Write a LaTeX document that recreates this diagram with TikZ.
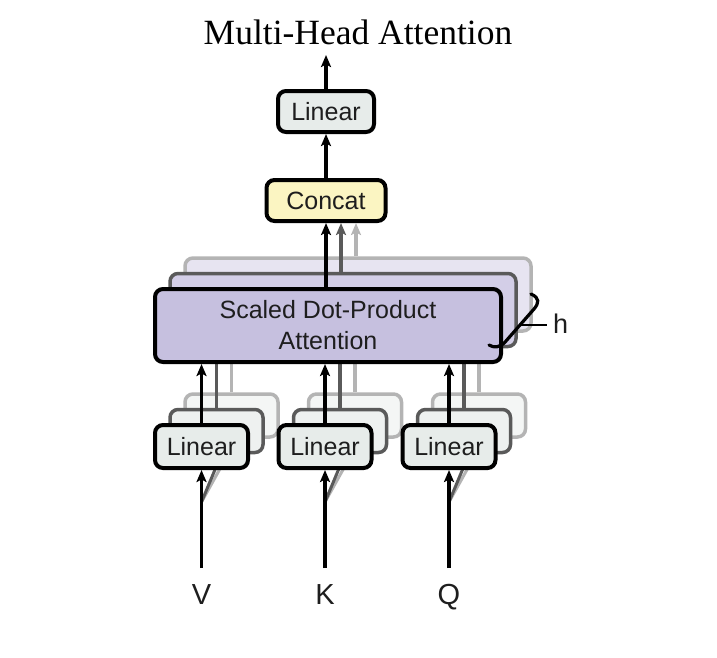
\documentclass[tikz,border=0pt]{standalone}
\usepackage{fontspec}
\newfontfamily\hv{Liberation Sans}
\newfontfamily\tm{Liberation Serif}
\usetikzlibrary{arrows.meta}
\definecolor{linfill}{HTML}{E7ECEA}
\definecolor{linfillB}{HTML}{EEF1F0}
\definecolor{linfillC}{HTML}{F4F6F5}
\definecolor{catfill}{HTML}{FBF5C2}
\definecolor{attfill}{HTML}{C6C0DF}
\definecolor{attfillB}{HTML}{D3CEE7}
\definecolor{attfillC}{HTML}{E7E4F1}
\definecolor{grayB}{HTML}{5A5A5A}
\definecolor{grayC}{HTML}{B4B4B4}
\definecolor{txt}{HTML}{1E1E1E}
\tikzset{
  box/.style={draw=black, line width=4pt, rounded corners=8pt, inner sep=0pt,
    font=\hv\fontsize{25}{31}\selectfont, align=center, text=txt},
  boxB/.style={box, draw=grayB, line width=3.5pt},
  boxC/.style={box, draw=grayC, line width=3.5pt},
  linbox/.style={minimum width=93pt, minimum height=43pt},
  attbox/.style={minimum width=346pt, minimum height=73pt},
  arr/.style={line width=3.5pt, -{Stealth[length=12pt,width=10pt,inset=2.5pt]}},
  arrB/.style={arr, draw=grayB, color=grayB},
  arrC/.style={arr, draw=grayC, color=grayC},
  lbl/.style={font=\hv\fontsize{29}{31}\selectfont, inner sep=0pt, text=txt}
}
\begin{document}
\begin{tikzpicture}[x=1pt,y=-1pt]
\useasboundingbox (0,0) rectangle (717,657);
% title
\node[font=\tm\fontsize{35.5}{38}\selectfont, inner sep=0pt] (title) at (358,32) {Multi-Head Attention};

% back layers of bottom linear boxes
\foreach \n/\x in {v/201.5, k/325, q/449}{
  \node[box, boxC, linbox, fill=linfillC] (l\n C) at (\x+30,415.5) {};
}
\foreach \n/\x in {v/201.5, k/325, q/449}{
  \node[box, boxB, linbox, fill=linfillB] (l\n B) at (\x+15,431) {};
}
% back layers of attention
\node[box, boxC, attbox, fill=attfillC] (attC) at (358,294.5) {};
\node[box, boxB, attbox, fill=attfillB] (attB) at (343,310) {};

% gray connectors from back linear layers to attention
\foreach \n in {v,k,q}{
  \draw[line width=3.5pt, grayC] (l\n C.north) -- (l\n C.north |- attB.south);
  \draw[line width=3.5pt, grayB] (l\n B.north) -- (l\n B.north |- attB.south);
}

% front attention box
\node[box, attbox, fill=attfill] (att) at (328,325.5) {Scaled Dot-Product\\Attention};

% input coordinates and diagonal shadows
\foreach \n/\x/\l in {v/201.5/V, k/325/K, q/449/Q}{
  \coordinate (in\n) at (\x,568);
  \coordinate (br\n) at (\x,502);
  \draw[line width=3pt, grayC] (br\n) -- ++(20,-36);
  \draw[line width=3pt, grayB] (br\n) -- ++(15,-36);
  \node[lbl, anchor=base] (lab\n) at (\x,604) {\l};
}

% front linear boxes
\node[box, linbox, fill=linfill] (lv) at (201.5,446.5) {Linear};
\node[box, linbox, fill=linfill] (lk) at (325,446.5) {Linear};
\node[box, linbox, fill=linfill] (lq) at (449,446.5) {Linear};

\foreach \n in {v,k,q}{
  \draw[arr] (in\n) -- (l\n.south);
  \draw[arr] (l\n.north) -- (l\n.north |- att.south);
}

% concat and top linear
\node[box, fill=catfill, minimum width=119pt, minimum height=41pt] (concat) at (326,200.5) {Concat};
\node[box, fill=linfill, minimum width=96pt, minimum height=41pt] (ltop) at (326,111.5) {Linear};
\coordinate (out) at (326,55);

\draw[arrC] ([xshift=30pt]concat.south |- attC.north) -- ([xshift=30pt]concat.south);
\draw[arrB] ([xshift=15pt]concat.south |- attB.north) -- ([xshift=15pt]concat.south);
\draw[arr] (concat.south |- att.north) -- (concat.south);
\draw[arr] (concat.north) -- (ltop.south);
\draw[arr] (ltop.north) -- (out);

% brace with h
\draw[line width=3.2pt, line cap=round]
  (531,294) .. controls (540,298) and (539,303) .. (534,309)
  -- (506,341) .. controls (500,348) and (494,348) .. (489,345);
\draw[line width=2.5pt] (521,325) -- (547,325);
\node[lbl, font=\hv\fontsize{27}{31}\selectfont, anchor=west] (h) at (553,324) {h};
\end{tikzpicture}
\end{document}
